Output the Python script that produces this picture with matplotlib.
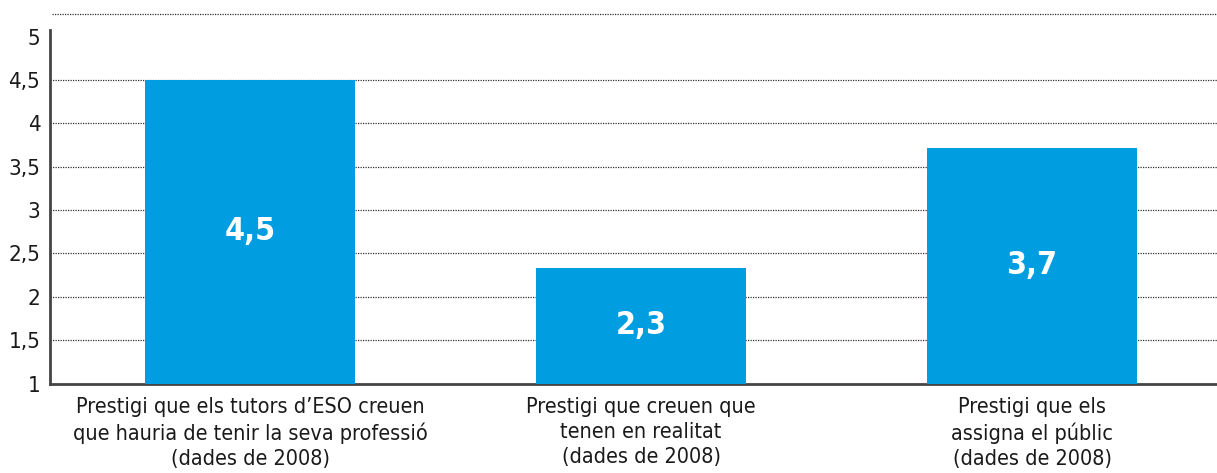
import matplotlib
matplotlib.use('Agg')
import matplotlib.pyplot as plt

categories = [
    "Prestigi que els tutors d’ESO creuen\nque hauria de tenir la seva professió\n(dades de 2008)",
    "Prestigi que creuen que\ntenen en realitat\n(dades de 2008)",
    "Prestigi que els\nassigna el públic\n(dades de 2008)",
]
values = [4.5, 2.33, 3.72]
value_labels = ["4,5", "2,3", "3,7"]
y_ticks = [1, 1.5, 2, 2.5, 3, 3.5, 4, 4.5, 5]
y_tick_labels = ["1", "1,5", "2", "2,5", "3", "3,5", "4", "4,5", "5"]
top_rule = 5.26

plt.rcParams['font.family'] = ['DejaVu Sans']
plt.rcParams['font.stretch'] = 'condensed'

W, H = 1217, 473
fig = plt.figure(figsize=(W / 100, H / 100), dpi=100)
ax = fig.add_axes([50 / W, (H - 383.5) / H, (W - 50) / W, (383.5 - 14) / H])

bar_color = '#009EE0'
x = list(range(len(values)))
base = 1
ax.bar(x, [v - base for v in values], bottom=base, width=0.537, color=bar_color, zorder=3)

for xi, v, lab in zip(x, values, value_labels):
    ax.text(xi, (base + v) / 2, lab, ha='center', va='center', color='white',
            fontsize=23, fontweight='bold', stretch='condensed', zorder=4)

ax.set_xlim(-0.5115, 2.473)
ax.set_ylim(1, top_rule)
ax.set_yticks(y_ticks)
ax.set_yticklabels(y_tick_labels, fontsize=16, stretch='condensed')
ax.set_xticks(x)
ax.set_xticklabels(categories, fontsize=15.5, linespacing=1.3, va='top', stretch='condensed')
ax.tick_params(axis='both', length=0, colors='#1a1a1a')
ax.tick_params(axis='y', pad=7)
ax.tick_params(axis='x', pad=10)

for t in y_ticks[1:-1]:
    ax.axhline(t, color='#333333', linewidth=0.9, linestyle=(0, (1, 1)), zorder=1)
ax.axhline(top_rule, xmin=0.002, color='#333333', linewidth=0.9, linestyle=(0, (1, 1)), zorder=1, clip_on=False)

for s in ['top', 'right']:
    ax.spines[s].set_visible(False)
ax.spines['left'].set_bounds(1, 5.08)
ax.spines['left'].set_color('#444444')
ax.spines['left'].set_linewidth(2)
ax.spines['bottom'].set_color('#444444')
ax.spines['bottom'].set_linewidth(2)

fig.savefig('out.png', dpi=100)
